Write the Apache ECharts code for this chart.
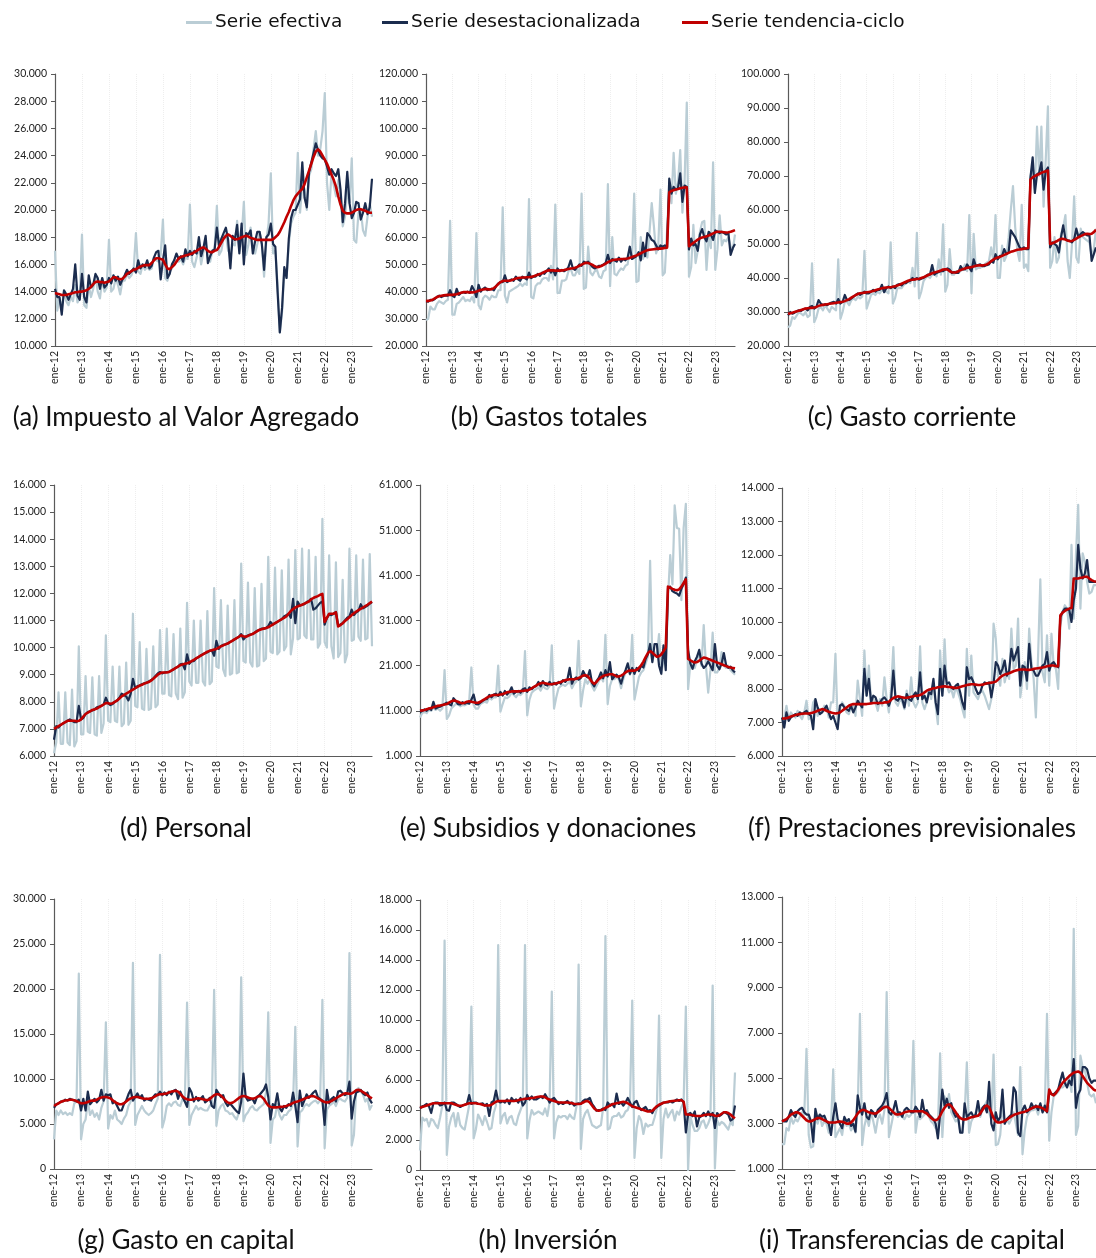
<!DOCTYPE html>
<html>
<head>
<meta charset="utf-8">
<script src="https://cdn.jsdelivr.net/npm/echarts@6/dist/echarts.min.js"></script>
<style>
html,body{margin:0;padding:0;background:#fff;}
#chart{width:1096px;height:1258px;}
</style>
</head>
<body>
<div id="chart"></div>
<script>
// Series mensuales ene-12 .. oct-23, en miles (el eje muestra la cifra completa)
const mesesAbrev = ['ene','feb','mar','abr','may','jun','jul','ago','sep','oct','nov','dic'];
const anios = ['12','13','14','15','16','17','18','19','20','21','22','23'];
const nMeses = 142;

// (a) Impuesto al Valor Agregado
const ivaEf = [
 17.0,12.6,13.5,12.8,14.0,13.3,13.0,13.6,13.3,14.5,13.2,13.5,
 18.2,13.0,12.8,14.5,13.6,14.2,15.2,14.0,13.5,15.0,14.0,14.3,
 17.8,14.0,14.2,15.0,14.5,13.8,14.8,14.8,15.3,15.0,15.2,15.7,
 18.3,15.5,15.3,16.0,15.6,15.8,15.6,15.7,16.5,16.3,16.2,16.7,
 19.3,15.0,14.8,15.5,15.7,16.1,16.3,16.2,16.4,16.0,16.5,16.4,
 20.4,16.2,15.8,16.5,17.4,16.0,16.9,17.6,16.5,16.2,17.0,17.2,
 20.3,16.7,17.0,18.0,18.2,17.0,16.8,17.5,17.4,19.2,17.0,18.0,
 20.6,16.7,17.4,18.7,17.2,16.8,17.5,18.4,17.5,15.1,17.8,19.0,
 22.7,16.8,17.0,14.5,11.0,12.5,15.5,15.0,17.5,19.0,19.5,19.8,
 24.2,19.8,22.0,21.5,20.0,22.5,23.0,24.5,25.8,24.0,24.5,25.8,
 28.6,22.0,20.0,22.8,21.8,21.0,22.2,21.0,18.8,19.5,21.5,20.5,
 23.8,17.8,17.6,19.8,20.0,18.5,18.1,19.5,20.5,19.5
];
const ivaDes = [
 14.2,13.6,13.6,12.3,14.1,13.8,13.4,13.8,14.2,16.0,13.7,13.4,
 15.3,13.6,13.2,15.2,14.3,14.5,15.3,15.0,14.2,15.0,14.3,14.5,
 15.0,14.6,15.2,14.8,15.1,14.5,14.9,15.2,15.6,15.3,15.5,15.7,
 15.4,16.3,15.7,16.0,15.8,16.3,15.7,15.9,16.5,16.9,17.0,14.9,
 16.3,17.4,15.0,15.3,16.0,16.3,16.8,16.4,16.6,16.2,17.1,16.6,
 17.0,16.7,17.0,16.8,18.0,16.6,17.2,18.1,16.1,16.6,17.0,17.1,
 18.7,17.3,17.9,18.3,18.7,17.8,15.7,18.1,17.8,18.9,16.8,19.0,
 16.0,18.3,18.2,18.5,16.8,17.7,18.4,18.4,17.5,15.6,18.0,18.2,
 19.0,17.5,17.3,14.0,11.0,12.8,15.8,15.0,17.9,19.4,20.0,20.0,
 20.4,20.8,23.5,20.9,20.2,22.8,23.5,24.2,24.9,24.4,24.0,23.8,
 23.7,23.2,22.6,23.0,22.7,22.5,23.0,21.5,19.1,20.5,22.8,20.5,
 19.4,19.8,20.6,20.5,19.3,19.8,20.5,19.7,20.2,22.3
];
const ivaTc = [
 13.9,13.85,13.8,13.75,13.75,13.75,13.8,13.85,13.9,13.95,13.95,14.0,
 14.0,14.05,14.1,14.2,14.35,14.55,14.7,14.75,14.7,14.7,14.65,14.7,
 14.75,14.9,15.05,15.05,14.95,14.9,14.95,15.1,15.3,15.4,15.5,15.6,
 15.65,15.75,15.85,15.9,15.95,15.95,15.95,16.1,16.3,16.45,16.45,16.4,
 16.35,16.0,15.7,15.65,15.8,15.95,16.2,16.45,16.55,16.6,16.65,16.7,
 16.75,16.8,16.9,17.0,17.1,17.2,17.25,17.15,17.0,16.9,16.9,17.0,
 17.05,17.3,17.6,17.9,18.1,18.2,18.1,17.95,17.85,17.85,17.9,18.0,
 18.05,18.1,18.05,17.95,17.9,17.85,17.8,17.8,17.8,17.8,17.8,17.8,
 17.8,17.85,18.0,18.15,18.4,18.75,19.1,19.5,19.85,20.3,20.7,21.0,
 21.2,21.4,21.55,21.9,22.4,22.9,23.4,23.9,24.3,24.45,24.3,24.0,
 23.7,23.4,23.0,22.6,22.2,21.7,21.0,20.4,19.95,19.8,19.75,19.75,
 19.8,19.9,20.0,20.05,20.05,20.0,19.95,19.85,19.8,19.8
];

// (b) Gastos totales
const gtEf = [
 29.5,30.0,34.5,33.5,33.5,35.5,36.5,36.0,35.5,36.5,37.0,66.0,
 31.5,31.5,35.5,36.0,37.0,38.0,36.5,37.0,36.5,38.0,36.0,61.5,
 35.0,33.5,37.5,38.5,38.0,37.0,38.5,38.0,38.0,40.5,40.5,71.0,
 38.5,36.0,40.0,40.5,41.0,41.5,42.0,43.0,42.0,43.0,42.5,74.0,
 38.0,37.5,42.0,43.0,43.0,44.5,45.0,45.0,44.0,49.5,44.5,72.0,
 39.5,39.5,44.0,44.0,44.5,47.5,48.5,46.0,46.0,48.0,46.5,76.0,
 41.0,41.5,56.5,47.0,46.0,47.5,48.0,45.5,45.0,47.5,48.0,79.5,
 42.0,60.0,46.5,46.0,47.5,48.5,48.0,49.5,50.0,56.5,52.0,76.0,
 43.5,44.0,60.0,52.0,54.5,52.5,62.0,72.5,64.0,54.0,57.0,77.5,
 46.0,47.0,62.5,78.0,72.5,91.0,76.0,80.0,92.0,69.0,80.5,109.5,
 45.5,49.0,64.5,50.5,55.0,62.0,65.5,66.0,48.0,60.0,56.0,87.5,
 48.0,55.5,68.0,57.0,59.0,58.5,60.0,56.5,55.5,61.0
];
const gtDes = [
 36.5,36.3,37.0,36.8,37.3,38.0,38.5,38.0,38.4,38.6,38.5,40.5,
 38.5,38.0,41.0,38.8,39.5,39.8,39.5,40.0,39.5,42.0,40.5,38.0,
 42.5,40.0,41.0,41.5,40.5,40.8,41.0,40.5,42.0,43.0,43.5,43.5,
 46.0,43.5,44.0,44.5,44.0,45.5,44.5,44.0,45.5,45.0,44.5,47.0,
 45.0,45.5,45.5,46.5,45.8,47.0,46.5,47.5,48.5,47.0,48.0,46.0,
 48.5,47.5,48.0,47.5,48.0,49.0,51.5,48.5,48.0,49.0,50.0,49.5,
 51.0,50.5,51.0,50.0,49.0,48.5,49.0,49.5,49.5,50.0,50.5,53.5,
 50.5,52.0,51.5,51.0,52.5,51.0,52.0,51.5,52.5,56.5,52.0,52.5,
 53.0,54.5,51.5,58.0,53.0,61.5,60.5,59.0,58.5,57.0,55.5,57.0,
 56.5,57.0,56.5,81.5,76.0,78.5,77.5,78.0,83.5,73.0,79.0,78.5,
 55.5,59.5,57.0,57.5,55.0,61.0,63.0,60.0,58.5,62.0,61.0,59.0,
 62.5,62.0,61.5,62.0,61.5,61.0,61.5,53.5,56.0,57.5
];
const gtTc = [
 36.5,36.6,36.7,37.0,37.5,38.0,38.3,38.5,38.6,38.7,38.8,38.8,
 38.8,38.9,39.0,39.3,39.6,39.8,39.8,39.8,39.7,39.7,39.8,40.0,
 40.3,40.6,40.8,40.9,40.9,40.8,40.9,41.3,42.0,42.8,43.5,43.9,
 44.0,44.0,44.0,44.2,44.5,44.8,45.0,45.1,45.2,45.2,45.3,45.3,
 45.4,45.6,45.9,46.2,46.5,46.8,47.2,47.6,47.8,47.8,47.8,47.7,
 47.7,47.7,47.8,47.9,48.1,48.3,48.5,48.6,48.8,49.1,49.5,49.9,
 50.3,50.6,50.5,50.2,49.8,49.3,49.0,49.1,49.4,49.8,50.3,50.8,
 51.2,51.5,51.7,51.8,51.9,52.0,52.0,52.1,52.2,52.4,52.7,53.0,
 53.3,53.7,54.1,54.5,54.9,55.2,55.4,55.5,55.6,55.7,55.8,55.8,
 55.9,56.0,56.1,76.5,77.0,77.3,77.5,77.7,78.0,78.2,78.3,78.3,
 56.7,57.3,57.9,58.5,59.1,59.6,59.9,60.1,60.3,60.6,61.0,61.4,
 61.8,62.0,62.0,61.9,61.8,61.7,61.8,62.0,62.3,62.6
];

// (c) Gasto corriente
const gcEf = [
 25.5,26.0,28.5,28.0,29.0,30.0,29.5,29.0,30.0,28.5,29.0,44.3,
 27.0,28.5,31.0,31.5,30.5,32.0,31.0,30.0,31.5,31.0,30.5,45.5,
 28.0,30.0,33.0,33.0,32.0,33.5,34.0,33.5,34.5,34.0,34.5,48.0,
 31.0,33.0,35.0,35.5,35.0,36.0,35.5,36.5,36.0,36.0,35.5,50.5,
 32.5,34.0,37.0,37.0,37.0,38.0,38.5,39.0,38.5,43.0,37.5,53.3,
 34.0,36.0,39.0,40.0,40.5,40.0,41.0,41.5,40.5,45.5,41.0,55.8,
 36.0,38.0,48.5,41.0,41.0,42.0,41.5,42.0,42.5,44.0,42.0,58.5,
 35.5,53.0,42.5,43.0,43.0,43.5,44.0,44.5,45.0,49.0,45.0,58.5,
 40.0,40.0,49.5,45.0,46.5,52.0,60.0,67.0,55.0,48.0,45.0,61.5,
 43.0,44.0,42.0,70.0,73.0,66.0,84.5,70.0,84.5,61.0,75.0,90.5,
 43.0,45.0,52.0,44.5,46.0,53.0,55.0,58.5,45.0,40.0,50.0,64.0,
 46.0,44.5,54.5,52.0,51.5,51.0,50.5,46.5,48.5,54.5
];
const gcDes = [
 29.0,30.0,29.5,29.8,30.2,30.5,30.3,30.8,31.0,30.5,31.5,31.8,
 31.0,31.5,33.5,32.5,32.0,32.3,32.0,32.5,32.8,33.0,32.5,33.8,
 32.5,33.0,35.0,33.5,33.5,34.0,34.5,35.0,35.5,35.0,35.5,36.0,
 35.5,35.5,36.0,36.5,36.0,36.5,36.5,38.0,35.8,37.0,37.5,37.0,
 37.5,37.0,38.0,38.2,37.8,38.5,38.5,39.0,39.2,40.0,39.5,40.0,
 39.5,39.8,40.0,40.5,41.0,41.0,43.8,41.0,41.5,41.8,42.0,42.0,
 42.5,42.8,42.5,41.5,41.8,41.5,41.5,43.5,42.5,42.5,44.0,43.0,
 42.0,45.5,43.5,43.8,44.0,43.5,43.5,43.8,44.0,45.0,44.5,47.0,
 45.5,46.5,46.5,48.5,47.0,47.5,54.0,53.0,52.0,50.5,49.0,48.5,
 49.0,48.5,48.5,69.5,75.5,65.0,70.5,71.0,74.0,66.0,71.5,72.5,
 49.0,50.5,50.0,49.5,47.5,52.0,55.5,51.5,51.0,51.0,50.5,51.5,
 54.5,52.0,53.0,53.5,53.0,52.5,52.5,45.0,47.0,49.0
];
const gcTc = [
 29.5,29.6,29.8,30.0,30.2,30.4,30.6,30.8,31.0,31.1,31.2,31.2,
 31.3,31.5,31.8,32.0,32.1,32.2,32.3,32.4,32.5,32.6,32.7,32.8,
 32.9,33.0,33.2,33.5,33.8,34.2,34.6,35.0,35.3,35.5,35.6,35.7,
 35.8,35.9,36.0,36.2,36.4,36.6,36.8,37.0,37.1,37.2,37.3,37.3,
 37.4,37.6,37.8,38.0,38.3,38.6,38.9,39.2,39.4,39.5,39.6,39.7,
 39.8,40.0,40.2,40.5,40.8,41.1,41.4,41.6,41.8,42.0,42.2,42.5,
 42.6,42.5,42.0,41.7,41.6,41.7,42.0,42.3,42.6,42.8,43.0,43.1,
 43.2,43.4,43.6,43.7,43.7,43.7,43.8,44.0,44.4,44.9,45.4,45.8,
 46.0,46.2,46.5,46.8,47.1,47.4,47.7,47.9,48.1,48.3,48.4,48.5,
 48.6,48.7,48.8,69.0,69.6,70.0,70.3,70.6,70.9,71.2,71.4,71.6,
 50.0,50.2,50.5,50.8,51.2,51.5,51.5,51.3,51.0,50.8,50.9,51.2,
 51.6,52.0,52.3,52.6,52.9,53.0,52.9,53.0,53.5,54.2
];

// (d) Personal
const perEf = [
 6.1,6.5,8.35,6.45,6.45,8.35,6.5,6.4,8.45,6.35,6.55,10.05,
 6.8,6.8,8.95,6.9,6.85,8.9,6.8,6.75,8.95,6.85,7.2,10.45,
 7.3,7.25,9.3,7.3,7.25,9.3,7.1,7.2,9.45,7.15,7.3,11.25,
 7.85,7.8,10.2,7.75,7.7,9.95,7.7,7.75,10.05,7.8,7.9,10.65,
 8.3,8.3,10.7,8.25,8.2,10.5,8.3,8.1,10.7,8.15,8.35,11.65,
 8.75,8.6,11.0,8.7,8.7,11.0,8.75,8.6,11.35,8.65,8.75,12.2,
 9.3,9.25,11.75,9.2,8.95,11.55,9.0,9.05,11.75,9.05,9.1,13.1,
 9.5,9.45,12.4,9.45,9.3,12.2,9.3,9.35,12.35,9.5,9.6,13.35,
 9.85,9.8,12.95,9.75,9.85,12.85,9.9,10.05,13.25,9.75,10.35,13.6,
 10.3,10.35,13.65,10.45,10.35,13.6,10.3,10.3,13.35,10.0,10.15,14.75,
 10.2,10.0,13.4,10.05,9.6,13.15,9.65,9.8,12.5,9.45,9.75,13.65,
 10.25,10.3,13.4,10.4,10.25,13.25,10.3,10.35,13.45,10.05
];
const perDes = [
 6.6,7.1,7.05,7.15,7.2,7.25,7.3,7.35,7.3,7.25,7.25,7.85,
 7.35,7.4,7.55,7.62,7.65,7.68,7.72,7.8,7.82,7.85,7.9,8.15,
 7.95,7.88,7.92,8.0,8.05,8.15,8.3,8.25,8.2,8.05,8.3,8.85,
 8.5,8.58,8.6,8.65,8.68,8.7,8.75,8.8,8.85,8.95,9.05,9.1,
 9.05,9.08,9.1,9.1,9.15,9.2,9.25,9.3,9.38,9.4,9.2,9.75,
 9.4,9.5,9.5,9.6,9.65,9.7,9.75,9.8,9.82,9.88,9.9,9.7,
 10.25,9.95,10.05,10.1,10.12,10.15,10.2,10.25,10.3,10.35,10.4,10.5,
 10.3,10.4,10.45,10.48,10.5,10.55,10.62,10.65,10.7,10.7,10.72,10.8,
 10.95,10.85,10.9,10.95,11.0,11.05,11.15,11.2,11.25,11.1,11.8,10.9,
 11.7,11.55,11.58,11.6,11.68,11.72,11.8,11.4,11.45,11.55,11.65,11.7,
 10.85,11.1,11.22,11.2,11.25,11.32,10.8,10.85,10.9,11.0,11.1,11.15,
 11.4,11.2,11.3,11.35,11.6,11.45,11.5,11.55,11.62,11.68
];
const perTc = [
 7.0,7.05,7.1,7.15,7.2,7.25,7.3,7.3,7.3,7.3,7.28,7.3,
 7.35,7.45,7.55,7.6,7.65,7.7,7.72,7.75,7.8,7.85,7.9,7.95,
 7.95,7.93,7.95,8.0,8.05,8.12,8.2,8.25,8.3,8.35,8.4,8.45,
 8.5,8.55,8.6,8.63,8.67,8.7,8.73,8.78,8.85,8.92,9.0,9.05,
 9.08,9.08,9.08,9.1,9.15,9.2,9.25,9.3,9.35,9.38,9.4,9.42,
 9.45,9.5,9.55,9.6,9.65,9.7,9.75,9.8,9.85,9.88,9.9,9.93,
 9.95,10.0,10.05,10.08,10.12,10.15,10.2,10.25,10.3,10.35,10.4,10.45,
 10.42,10.4,10.43,10.47,10.5,10.55,10.6,10.65,10.68,10.7,10.72,10.75,
 10.8,10.85,10.9,10.95,11.0,11.05,11.1,11.15,11.25,11.35,11.42,11.48,
 11.52,11.55,11.58,11.62,11.66,11.7,11.78,11.83,11.87,11.9,11.95,11.98,
 10.95,11.1,11.25,11.25,11.25,11.3,10.78,10.83,10.9,10.98,11.05,11.12,
 11.2,11.27,11.33,11.38,11.43,11.48,11.53,11.58,11.64,11.7
];

// (e) Subsidios y donaciones
const subEf = [
 9.5,10.5,10.8,10.5,11.3,11.0,11.8,11.2,11.5,11.0,11.5,20.0,
 9.2,10.0,11.5,12.0,12.5,12.5,12.0,12.3,12.2,12.5,13.0,20.6,
 12.3,11.5,11.5,12.5,12.8,13.0,12.8,14.0,13.5,14.0,14.0,21.0,
 10.8,12.5,14.0,13.8,14.2,15.0,14.5,14.0,14.8,14.5,15.0,24.2,
 10.0,13.5,15.0,15.5,15.8,16.2,15.5,16.5,16.0,15.8,16.5,25.5,
 11.5,14.0,16.0,16.5,16.8,16.5,17.0,17.5,16.0,17.0,17.5,26.5,
 12.0,15.5,18.0,17.0,18.0,16.5,15.5,16.5,17.5,18.5,17.5,27.8,
 12.5,16.5,18.0,18.0,18.5,18.0,16.0,18.0,19.5,20.0,19.0,27.8,
 13.5,16.0,18.5,19.5,20.0,21.5,23.0,44.2,22.0,24.0,23.0,28.0,
 19.5,22.0,21.5,36.0,45.5,39.0,56.5,51.5,51.3,35.5,51.5,56.8,
 15.8,21.5,22.0,20.5,22.5,23.5,21.0,30.0,21.0,15.0,20.0,28.3,
 19.5,19.5,20.5,24.0,21.0,20.5,21.0,20.0,19.5,19.0
];
const subDes = [
 10.7,11.0,11.3,11.0,11.5,11.2,13.0,11.5,11.8,11.9,12.2,12.5,
 12.8,12.5,12.2,13.8,13.2,12.5,12.4,12.9,12.6,12.8,12.6,13.5,
 14.6,12.5,12.4,12.8,13.2,13.5,13.6,14.5,14.0,14.6,14.8,14.3,
 15.2,14.4,15.4,14.6,15.2,16.2,14.8,15.2,15.4,15.0,15.8,16.0,
 15.2,16.2,15.8,16.3,16.5,17.4,16.4,17.6,16.8,16.6,17.4,16.8,
 17.2,16.8,17.4,17.0,17.8,17.4,18.0,20.5,17.0,18.0,18.4,17.9,
 18.3,19.8,18.8,18.4,20.0,17.2,16.4,17.6,18.3,19.5,18.2,20.0,
 18.6,21.8,18.0,18.6,19.0,18.4,17.0,18.8,20.0,21.5,19.2,20.5,
 19.2,20.5,19.8,21.0,20.6,22.5,23.5,25.8,21.8,25.8,25.8,21.0,
 19.2,25.5,20.0,38.0,38.5,37.5,37.2,37.0,36.5,38.0,39.0,40.5,
 24.5,21.5,20.3,22.0,23.0,24.5,21.5,20.5,21.0,22.0,21.0,20.0,
 25.8,21.0,20.2,21.5,23.8,21.2,20.5,20.8,20.0,19.5
];
const subTc = [
 11.0,11.1,11.2,11.35,11.5,11.65,11.8,11.95,12.1,12.2,12.3,12.4,
 12.5,12.8,13.1,13.3,13.2,13.0,12.8,12.7,12.8,13.0,13.1,13.0,
 12.9,12.8,12.8,13.0,13.3,13.6,13.9,14.2,14.4,14.5,14.5,14.5,
 14.6,14.7,14.9,15.1,15.2,15.3,15.3,15.3,15.3,15.4,15.4,15.5,
 15.5,15.7,16.0,16.3,16.6,16.9,17.1,17.2,17.1,17.0,16.9,16.9,
 17.0,17.1,17.2,17.4,17.6,17.8,17.9,18.0,18.0,18.0,18.1,18.3,
 18.5,18.8,18.9,18.7,18.1,17.4,17.0,17.4,18.0,18.4,18.7,18.9,
 19.0,19.1,19.1,18.9,18.6,18.6,18.8,19.1,19.5,19.8,19.9,19.9,
 19.9,20.1,20.5,21.1,21.9,22.9,23.8,24.2,23.9,23.4,23.0,23.1,
 23.5,24.2,25.0,38.5,38.3,38.0,37.8,37.7,37.9,38.5,39.3,40.1,
 22.5,22.2,21.9,21.7,21.8,22.1,22.5,22.8,22.7,22.5,22.3,22.1,
 21.9,21.7,21.5,21.3,21.1,20.9,20.7,20.6,20.5,20.4
];

// (f) Prestaciones previsionales
const preEf = [
 7.0,7.1,7.5,7.1,7.3,7.2,7.15,7.35,7.2,7.1,7.3,7.65,
 7.1,7.15,7.6,7.7,7.2,7.4,7.3,7.5,7.45,7.15,7.6,7.6,
 9.05,6.95,7.4,7.6,7.5,7.3,7.25,7.45,7.55,7.2,8.25,7.7,
 7.2,9.15,7.8,8.7,7.6,7.7,7.6,7.35,7.7,7.5,8.35,7.7,
 7.3,8.0,9.25,7.6,7.5,7.7,7.6,7.4,7.95,7.5,8.35,7.6,
 7.45,7.6,9.27,7.6,7.4,7.6,8.0,7.7,8.2,7.5,6.95,9.15,
 7.8,9.48,8.1,7.9,8.0,7.75,8.05,7.9,7.7,7.4,7.15,9.2,
 7.8,9.0,7.9,7.8,7.7,7.9,7.95,7.8,7.6,7.4,7.7,9.95,
 9.5,8.4,8.1,8.9,8.2,8.5,8.3,9.8,8.6,8.7,10.1,7.75,
 8.3,8.8,8.0,9.8,8.8,8.3,7.15,9.0,11.27,8.5,8.2,9.6,
 8.1,9.65,8.7,8.6,8.0,9.9,10.3,10.5,10.4,9.8,12.3,10.1,
 12.0,13.5,10.4,12.05,11.8,11.2,10.85,10.9,11.1,11.1
];
const preDes = [
 7.15,6.85,7.3,7.05,7.15,7.2,7.25,7.2,7.3,7.25,7.3,7.35,
 7.25,7.2,6.8,7.7,7.45,7.25,7.3,7.4,7.5,7.3,7.1,7.2,
 7.0,6.8,7.5,7.55,7.45,7.4,7.35,7.5,7.3,7.45,7.65,7.55,
 7.45,8.6,7.8,8.3,7.6,7.8,7.75,7.55,7.6,7.7,7.75,7.65,
 7.5,7.7,8.55,7.7,7.65,7.75,7.7,7.45,7.85,7.7,7.65,7.8,
 7.9,7.7,8.5,7.7,7.8,7.6,7.9,7.85,8.3,7.6,7.25,8.6,
 7.8,8.7,8.15,8.2,8.05,8.0,8.1,8.15,7.9,7.6,7.4,8.65,
 8.3,8.35,8.2,8.0,7.85,7.9,8.1,8.2,8.15,8.2,7.75,8.15,
 8.8,8.7,8.45,8.6,8.85,8.4,8.55,9.2,8.85,9.05,9.25,8.1,
 8.7,8.65,8.25,9.35,8.6,8.55,8.4,8.4,8.55,8.7,8.75,9.1,
 8.55,8.75,8.8,8.7,8.65,10.15,10.3,10.4,10.4,10.35,10.0,10.65,
 11.0,12.3,11.6,11.3,11.45,11.85,11.2,11.2,11.2,11.2
];
const preTc = [
 7.12,7.12,7.13,7.15,7.18,7.2,7.22,7.24,7.25,7.26,7.27,7.27,
 7.27,7.28,7.3,7.32,7.35,7.37,7.4,7.38,7.35,7.32,7.3,7.28,
 7.27,7.28,7.3,7.35,7.4,7.45,7.5,7.53,7.55,7.55,7.55,7.55,
 7.55,7.55,7.55,7.56,7.57,7.58,7.58,7.58,7.58,7.58,7.6,7.6,
 7.62,7.68,7.73,7.76,7.78,7.77,7.75,7.74,7.74,7.75,7.77,7.78,
 7.8,7.8,7.82,7.85,7.9,7.95,7.98,8.0,8.02,8.03,8.05,8.06,
 8.07,8.08,8.07,8.06,8.05,8.04,8.03,8.04,8.06,8.08,8.1,8.12,
 8.13,8.14,8.14,8.13,8.12,8.12,8.13,8.15,8.17,8.18,8.19,8.2,
 8.22,8.28,8.35,8.4,8.43,8.45,8.47,8.5,8.53,8.55,8.57,8.58,
 8.58,8.58,8.57,8.57,8.58,8.6,8.61,8.62,8.63,8.64,8.66,8.68,
 8.69,8.7,8.7,8.68,8.68,10.2,10.28,10.33,10.37,10.4,10.42,11.3,
 11.3,11.3,11.32,11.33,11.35,11.35,11.3,11.25,11.22,11.2
];

// (g) Gasto en capital
const capEf = [
 3.3,6.5,6.0,6.5,6.1,6.3,6.0,6.2,6.0,7.3,7.5,21.7,
 3.3,5.0,5.5,7.5,6.0,6.5,5.8,6.2,5.5,6.8,7.5,16.3,
 4.5,6.0,5.6,6.5,5.5,5.3,5.0,5.6,6.0,7.0,7.5,22.9,
 4.9,6.0,6.5,7.0,6.5,6.2,6.0,6.2,6.5,7.2,7.8,23.8,
 4.6,5.5,7.0,7.3,7.0,7.4,7.5,7.1,7.0,7.8,7.5,18.5,
 4.9,6.0,6.5,7.0,6.6,6.8,6.6,6.5,6.5,7.0,7.3,19.9,
 4.8,6.5,7.0,7.2,6.5,6.4,6.1,6.2,5.8,5.5,6.3,21.3,
 5.3,6.0,6.3,6.8,7.0,6.6,6.5,6.8,7.0,7.2,8.5,17.4,
 2.9,5.5,5.8,7.2,6.0,5.5,6.0,6.0,6.4,6.6,7.3,15.8,
 2.5,6.3,6.5,7.0,7.2,7.0,7.3,7.5,7.6,7.3,7.6,18.8,
 2.3,6.6,7.0,7.2,7.5,7.0,7.7,7.8,7.6,7.5,7.9,24.0,
 2.6,3.8,8.8,9.0,8.6,8.3,7.5,7.8,6.6,7.1
];
const capDes = [
 6.8,7.2,7.3,7.5,7.5,7.7,7.6,7.8,7.7,7.6,7.5,7.7,
 6.5,7.8,6.5,8.6,7.2,7.5,7.8,7.4,7.7,8.8,7.6,8.3,
 8.2,8.3,7.3,7.5,7.0,6.5,6.5,7.2,7.6,8.3,8.8,7.6,
 8.0,8.4,7.9,8.2,7.6,7.8,7.7,7.6,8.0,8.3,8.2,8.6,
 8.2,8.5,8.2,8.6,8.3,8.7,8.8,7.8,8.6,8.0,7.5,6.9,
 9.0,8.5,7.5,8.0,7.6,7.8,8.1,7.4,7.6,7.9,7.0,6.8,
 8.8,8.4,8.0,8.2,7.4,7.0,7.3,7.0,6.7,6.4,6.2,7.5,
 10.6,8.0,7.6,7.7,7.8,7.3,8.0,8.2,8.5,8.8,9.4,8.0,
 5.5,7.2,7.0,8.4,6.8,6.4,7.0,6.8,7.2,7.0,8.5,7.0,
 5.2,8.7,7.0,7.6,8.3,7.9,8.2,8.5,8.7,8.0,7.8,7.6,
 4.9,8.8,7.3,7.8,8.0,7.5,8.6,8.7,8.4,8.2,8.4,9.7,
 5.6,7.5,8.5,8.6,8.8,8.4,8.2,8.5,7.7,7.3
];
const capTc = [
 7.0,7.15,7.3,7.45,7.55,7.6,7.65,7.7,7.7,7.65,7.55,7.4,
 7.3,7.3,7.35,7.45,7.55,7.6,7.6,7.7,7.85,7.95,8.0,8.0,
 7.95,7.85,7.65,7.45,7.3,7.2,7.2,7.3,7.5,7.7,7.85,7.95,
 8.0,8.0,7.95,7.85,7.8,7.8,7.8,7.85,7.95,8.1,8.25,8.3,
 8.3,8.35,8.4,8.5,8.6,8.65,8.7,8.6,8.35,8.05,7.85,7.75,
 7.7,7.7,7.75,7.8,7.85,7.8,7.75,7.7,7.65,7.75,8.0,8.2,
 8.3,8.3,8.15,7.9,7.6,7.4,7.3,7.35,7.5,7.7,7.9,8.05,
 8.1,8.05,7.95,7.85,7.8,7.85,8.0,8.1,8.05,7.8,7.4,7.05,
 6.9,6.85,6.85,6.85,6.9,6.9,6.95,7.0,7.1,7.2,7.35,7.45,
 7.5,7.6,7.7,7.8,7.9,8.0,8.1,8.1,8.0,7.85,7.7,7.55,
 7.45,7.4,7.45,7.55,7.7,7.85,8.0,8.15,8.3,8.4,8.4,8.35,
 8.4,8.55,8.75,8.8,8.7,8.55,8.4,8.2,8.0,7.85
];

// (h) Inversión
const invEf = [
 1.3,3.5,3.3,3.4,2.9,3.4,3.3,3.0,2.8,3.5,4.3,15.3,
 1.0,2.9,3.5,3.8,2.9,3.8,3.0,2.8,2.7,3.5,4.3,10.9,
 2.1,2.7,3.7,3.4,3.0,3.6,3.2,2.7,2.8,3.8,4.3,15.0,
 3.1,3.6,3.8,3.1,3.5,3.6,3.1,3.0,3.6,4.0,4.4,15.0,
 2.1,3.3,4.0,3.7,3.8,3.9,3.8,3.7,4.1,3.6,4.5,11.9,
 2.1,3.2,3.6,3.5,3.6,3.6,3.4,3.7,3.5,3.4,4.2,13.7,
 1.4,3.4,3.8,4.0,3.5,3.0,2.9,2.8,2.9,3.0,4.2,15.6,
 2.7,2.8,3.5,3.6,3.6,3.8,3.5,3.6,3.9,4.0,4.5,11.3,
 0.8,2.8,3.6,3.3,2.4,3.1,2.9,3.0,3.0,3.5,4.1,10.3,
 0.8,3.4,4.1,3.5,3.8,4.0,3.3,3.9,3.7,4.2,4.5,10.9,
 0.0,3.6,3.0,2.6,2.6,2.8,3.2,3.3,2.8,3.1,3.5,12.3,
 0.1,3.3,3.0,3.2,3.1,2.9,2.7,3.2,3.0,6.5
];
const invDes = [
 4.1,4.25,4.3,4.4,4.25,3.8,4.45,4.5,4.5,4.3,4.35,4.5,
 4.0,3.95,4.5,4.5,4.4,4.3,4.2,4.3,4.35,4.4,5.0,4.4,
 4.5,4.5,4.4,4.4,4.45,4.3,4.4,3.6,4.5,4.6,5.3,4.6,
 4.5,4.6,4.5,4.7,4.4,4.8,4.6,4.7,4.5,4.8,4.3,4.5,
 5.0,4.7,4.9,4.7,4.7,4.8,4.9,4.8,5.05,4.8,4.5,4.7,
 4.8,4.6,4.4,4.5,4.4,4.5,4.6,4.4,4.5,4.3,4.4,4.45,
 4.4,4.6,4.7,4.7,4.8,4.4,4.2,3.95,4.0,4.0,4.1,4.0,
 4.5,4.3,4.4,4.2,5.1,4.4,4.5,4.3,4.5,4.8,4.5,4.2,
 4.5,4.6,4.2,4.0,4.1,4.2,3.95,4.0,3.8,4.1,4.2,4.3,
 4.4,4.5,4.5,4.5,4.6,4.5,4.6,4.7,4.6,4.7,4.5,2.5,
 3.7,3.8,3.6,3.9,2.9,3.5,3.6,3.8,3.6,3.9,3.6,3.8,
 2.8,3.8,3.6,3.7,3.85,3.8,3.7,3.3,3.4,4.3
];
const invTc = [
 4.15,4.2,4.25,4.3,4.35,4.4,4.45,4.45,4.45,4.45,4.45,4.45,
 4.45,4.45,4.45,4.4,4.35,4.3,4.28,4.3,4.35,4.4,4.45,4.45,
 4.45,4.45,4.42,4.4,4.35,4.3,4.3,4.3,4.35,4.45,4.55,4.6,
 4.6,4.6,4.6,4.62,4.62,4.6,4.6,4.62,4.65,4.7,4.72,4.75,
 4.75,4.78,4.8,4.82,4.85,4.88,4.9,4.9,4.85,4.75,4.7,4.65,
 4.6,4.55,4.52,4.5,4.5,4.5,4.5,4.48,4.45,4.42,4.4,4.4,
 4.42,4.5,4.58,4.6,4.5,4.3,4.1,3.98,3.95,3.98,4.05,4.15,
 4.2,4.3,4.38,4.42,4.45,4.48,4.52,4.55,4.52,4.45,4.35,4.25,
 4.2,4.15,4.1,4.05,4.0,3.95,3.9,3.9,3.95,4.1,4.25,4.35,
 4.42,4.48,4.52,4.55,4.58,4.6,4.62,4.63,4.65,4.65,4.55,3.7,
 3.7,3.68,3.65,3.62,3.6,3.6,3.62,3.65,3.68,3.7,3.7,3.68,
 3.62,3.6,3.65,3.75,3.85,3.85,3.8,3.7,3.55,3.45
];

// (i) Transferencias de capital
const trfEf = [
 2.1,2.1,2.8,2.7,3.3,3.0,3.2,3.1,3.3,3.5,3.4,6.3,
 2.5,1.95,2.0,3.3,3.0,3.4,2.9,3.1,3.0,2.6,2.9,5.4,
 2.4,2.6,2.8,2.5,3.2,2.9,3.0,2.7,2.9,2.6,3.6,7.85,
 2.05,2.9,3.3,2.9,3.5,3.1,2.6,3.2,3.4,3.0,3.6,8.8,
 2.4,2.9,3.4,3.5,3.3,3.4,3.3,3.2,3.4,3.3,3.4,6.65,
 2.6,3.3,3.2,3.3,3.4,3.5,3.3,3.1,3.0,2.8,2.8,6.1,
 2.4,4.2,3.8,4.3,3.5,3.3,3.1,3.2,2.7,2.6,3.4,5.7,
 2.6,3.1,3.3,3.5,3.8,3.3,3.6,3.8,4.0,3.5,3.2,6.05,
 2.05,2.1,2.5,3.8,3.0,3.2,3.0,3.2,3.5,3.0,2.5,5.5,
 1.65,2.7,3.3,3.5,3.6,3.6,3.7,3.4,3.8,3.5,3.6,7.85,
 2.25,3.5,4.2,4.3,4.4,4.6,4.6,4.7,4.8,5.0,4.4,11.6,
 2.5,2.9,6.0,5.5,5.4,4.8,4.3,4.2,4.3,3.9
];
const trfDes = [
 3.15,3.1,3.1,3.3,3.6,3.4,3.3,3.55,3.65,3.7,3.5,3.4,
 3.4,3.1,2.2,3.65,3.2,3.4,3.3,3.35,3.1,3.0,2.5,3.3,
 3.9,3.2,3.0,2.8,3.3,3.1,3.2,2.9,3.0,2.65,4.25,3.7,
 3.4,3.9,3.3,3.2,3.6,3.5,3.3,3.6,3.7,3.8,4.0,4.35,
 3.5,3.4,3.6,4.0,3.5,3.5,3.3,3.6,3.7,3.6,3.5,3.5,
 3.75,3.6,3.3,4.05,3.5,3.6,3.4,3.3,3.2,3.0,2.35,3.4,
 4.5,3.8,4.1,3.7,3.9,3.5,3.3,3.4,2.6,2.6,3.9,3.3,
 3.4,3.5,3.3,3.4,4.0,3.4,3.7,3.8,3.5,4.85,3.0,2.7,
 3.5,3.1,3.3,4.5,3.0,3.2,3.3,3.4,4.6,4.4,2.6,2.45,
 3.6,3.8,3.5,3.6,3.9,3.7,3.8,3.6,3.9,3.5,3.8,3.5,
 4.4,4.3,4.3,4.4,4.5,4.9,5.25,4.8,4.6,4.9,4.7,5.85,
 3.7,4.3,4.5,5.5,5.5,5.4,5.0,4.8,4.9,4.9
];
const trfTc = [
 3.1,3.15,3.2,3.3,3.4,3.45,3.5,3.5,3.45,3.35,3.25,3.15,
 3.1,3.1,3.15,3.2,3.25,3.25,3.2,3.15,3.1,3.05,3.05,3.05,
 3.05,3.08,3.1,3.08,3.05,3.0,3.0,3.05,3.15,3.3,3.45,3.55,
 3.6,3.6,3.55,3.5,3.47,3.45,3.45,3.5,3.58,3.67,3.73,3.75,
 3.7,3.6,3.5,3.42,3.4,3.42,3.45,3.5,3.53,3.55,3.55,3.55,
 3.55,3.55,3.55,3.55,3.5,3.45,3.35,3.25,3.17,3.15,3.2,3.35,
 3.55,3.7,3.82,3.85,3.78,3.65,3.5,3.35,3.25,3.2,3.18,3.2,
 3.25,3.28,3.3,3.33,3.35,3.45,3.6,3.75,3.8,3.72,3.5,3.25,
 3.1,3.05,3.05,3.08,3.12,3.18,3.25,3.32,3.38,3.42,3.45,3.48,
 3.5,3.53,3.57,3.62,3.67,3.72,3.75,3.75,3.72,3.68,3.62,3.55,
 4.5,4.3,4.25,4.35,4.5,4.65,4.8,4.9,5.0,5.1,5.18,5.25,
 5.28,5.3,5.25,5.1,4.95,4.8,4.7,4.6,4.5,4.45
];

const nombres = ['Serie efectiva', 'Serie desestacionalizada', 'Serie tendencia-ciclo'];
const colores = ['#bacdd5', '#1b2c4e', '#c00000'];

// Etiquetas de meses para el eje de categorías
const meses = [];
for (let i = 0; i < nMeses; i++) meses.push(mesesAbrev[i % 12] + '-' + anios[Math.floor(i / 12)]);

// Paneles: datos, escala del eje y ubicación del área de trazado
const paneles = [
  { titulo: '(a) Impuesto al Valor Agregado', series: [ivaEf, ivaDes, ivaTc], min: 10, max: 30, paso: 2,
    caja: [55, 74, 317, 272], rotulo: [186, 418] },
  { titulo: '(b) Gastos totales', series: [gtEf, gtDes, gtTc], min: 20, max: 120, paso: 10,
    caja: [426, 74, 309, 272], rotulo: [549, 418] },
  { titulo: '(c) Gasto corriente', series: [gcEf, gcDes, gcTc], min: 20, max: 100, paso: 10,
    caja: [788, 74, 308, 272], rotulo: [912, 418] },
  { titulo: '(d) Personal', series: [perEf, perDes, perTc], min: 6, max: 16, paso: 1,
    caja: [54, 485, 318, 271], rotulo: [186, 829] },
  { titulo: '(e) Subsidios y donaciones', series: [subEf, subDes, subTc], min: 1, max: 61, paso: 10,
    caja: [420, 485, 315, 271], rotulo: [548, 829] },
  { titulo: '(f) Prestaciones previsionales', series: [preEf, preDes, preTc], min: 6, max: 14, paso: 1,
    caja: [782, 488, 314, 268], rotulo: [912, 829] },
  { titulo: '(g) Gasto en capital', series: [capEf, capDes, capTc], min: 0, max: 30, paso: 5,
    caja: [54, 899, 318, 270], rotulo: [186, 1241] },
  { titulo: '(h) Inversión', series: [invEf, invDes, invTc], min: 0, max: 18, paso: 2,
    caja: [420, 900, 315, 270], rotulo: [548, 1241] },
  { titulo: '(i) Transferencias de capital', series: [trfEf, trfDes, trfTc], min: 1, max: 13, paso: 2,
    caja: [782, 897, 314, 272], rotulo: [912, 1241] }
];

// Cifras en miles con punto como separador (30 -> "30.000")
function enMiles(v) {
  const n = Math.round(v * 1000);
  if (n === 0) return '0';
  return String(n).replace(/\B(?=(\d{3})+(?!\d))/g, '.');
}

const fuenteEje = 'Lato, "Noto Sans", sans-serif';
const grids = [], xAxes = [], yAxes = [], series = [], textos = [];

paneles.forEach((p, k) => {
  grids.push({ left: p.caja[0], top: p.caja[1], width: p.caja[2], height: p.caja[3], containLabel: false });

  xAxes.push({
    type: 'category', gridIndex: k, data: meses, boundaryGap: false,
    axisLine: { show: true, lineStyle: { color: '#5a5a5a', width: 1.2 } },
    axisTick: { show: false },
    axisLabel: { interval: 11, rotate: 90, fontSize: 10.5, color: '#262626', margin: 5, fontFamily: fuenteEje },
    splitLine: { show: true, interval: 11, lineStyle: { color: '#eeeeee', type: 'dotted', width: 1 } }
  });

  const marcas = [];
  for (let v = p.min; v <= p.max + 1e-9; v += p.paso) marcas.push(Math.round(v * 1000) / 1000);
  const multiplo = Math.abs(p.min / p.paso - Math.round(p.min / p.paso)) < 1e-9;
  const ejeY = {
    type: 'value', gridIndex: k, min: p.min, max: p.max,
    axisLine: { show: true, lineStyle: { color: '#5a5a5a', width: 1.2 } },
    axisTick: { show: true, length: 4, lineStyle: { color: '#5a5a5a' }, customValues: marcas },
    axisLabel: { fontSize: 10.5, color: '#222', margin: 8, fontFamily: fuenteEje, formatter: enMiles, customValues: marcas },
    splitLine: { show: false }
  };
  if (multiplo) ejeY.interval = p.paso;
  yAxes.push(ejeY);

  p.series.forEach((datos, j) => {
    series.push({
      name: nombres[j], type: 'line', xAxisIndex: k, yAxisIndex: k, data: datos,
      showSymbol: false, symbol: 'none', z: 2 + j,
      lineStyle: { color: colores[j], width: j === 2 ? 2.6 : 2.2, join: 'round' },
      itemStyle: { color: colores[j] },
      emphasis: { disabled: true }
    });
  });

  textos.push({
    type: 'text', x: p.rotulo[0], y: p.rotulo[1],
    style: { text: p.titulo, align: 'center', verticalAlign: 'middle', fill: '#111',
      font: '26px Lato, "Noto Sans", sans-serif' }
  });
});

// Leyenda: un bloque por serie, en fila sobre los paneles
const posLeyenda = [181, 377, 677];
const leyendas = nombres.map((n, j) => ({
  data: [n], left: posLeyenda[j], top: 8, icon: 'rect', itemWidth: 26, itemHeight: 3,
  textStyle: { fontSize: 18.5, color: '#111', fontFamily: '"DejaVu Sans", "Open Sans", sans-serif', padding: [0, 0, 0, -2] }
}));

const chart = echarts.init(document.getElementById('chart'), null, { renderer: 'canvas' });
chart.setOption({
  animation: false,
  backgroundColor: '#ffffff',
  legend: leyendas,
  grid: grids,
  xAxis: xAxes,
  yAxis: yAxes,
  series: series,
  graphic: textos
});
</script>
</body>
</html>
